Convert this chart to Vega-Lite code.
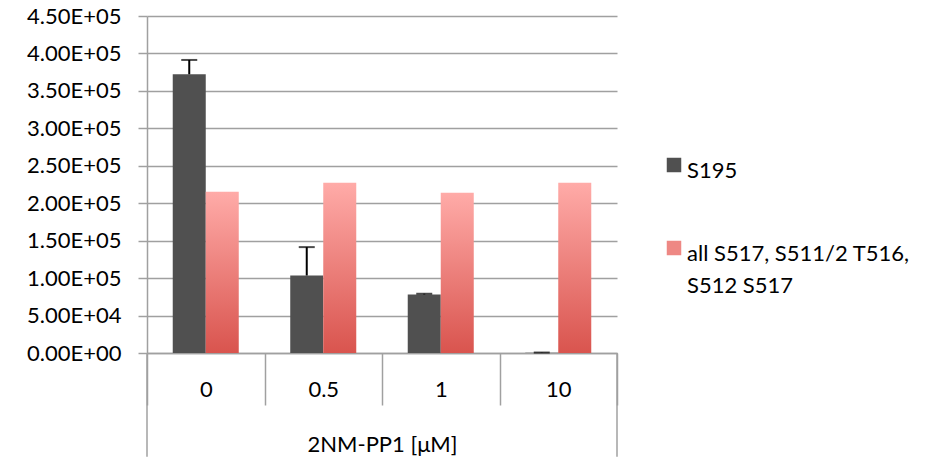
{
  "$schema": "https://vega.github.io/schema/vega-lite/v6.json",
  "width": 470,
  "height": 337,
  "autosize": {"type": "none"},
  "padding": {"left": 147, "top": 16, "right": 334, "bottom": 106},
  "background": "white",
  "config": {
    "view": {"stroke": null},
    "font": "Lato",
    "axis": {"labelFont": "Lato", "titleFont": "Lato", "labelFontSize": 22, "titleFontSize": 22, "labelColor": "black", "titleColor": "black", "titleFontWeight": "normal"},
    "legend": {"labelFont": "Lato", "labelFontSize": 22, "labelColor": "black"}
  },
  "data": {
    "values": [
      {"cat": "0", "series": "S195", "value": 372200, "hi": 391300},
      {"cat": "0.5", "series": "S195", "value": 103500, "hi": 141400},
      {"cat": "1", "series": "S195", "value": 78200, "hi": 79100},
      {"cat": "10", "series": "S195", "value": 300, "hi": 600},
      {"cat": "0", "series": "all S517, S511/2 T516, S512 S517", "value": 215200},
      {"cat": "0.5", "series": "all S517, S511/2 T516, S512 S517", "value": 227200},
      {"cat": "1", "series": "all S517, S511/2 T516, S512 S517", "value": 213900},
      {"cat": "10", "series": "all S517, S511/2 T516, S512 S517", "value": 227200}
    ]
  },
  "encoding": {
    "x": {
      "field": "cat", "type": "nominal",
      "scale": {"domain": ["0", "0.5", "1", "10"], "paddingInner": 0, "paddingOuter": 0},
      "axis": {
        "title": "2NM-PP1 [μM]",
        "labelAngle": 0,
        "labelFontSize": 22,
        "titleFontSize": 22,
        "tickBand": "extent",
        "tickSize": 52,
        "tickColor": "#a0a0a0",
        "tickWidth": 1.5,
        "domainColor": "#a0a0a0",
        "domainWidth": 1.5,
        "labelPadding": -26,
        "titlePadding": 29
      }
    },
    "xOffset": {
      "field": "series", "type": "nominal",
      "scale": {"domain": ["S195", "all S517, S511/2 T516, S512 S517"], "paddingInner": 0, "paddingOuter": 0.78}
    },
    "y": {
      "field": "value", "type": "quantitative",
      "scale": {"domain": [0, 450000], "nice": false, "zero": true},
      "axis": {
        "title": null,
        "tickCount": 9,
        "format": ".2e",
        "labelExpr": "replace(upper(datum.label), 'E+', 'E+0')",
        "labelOverlap": false,
        "labelFontSize": 22,
        "grid": true,
        "gridColor": "#a0a0a0",
        "gridWidth": 1.5,
        "tickColor": "#a0a0a0",
        "tickWidth": 1.5,
        "tickSize": 9,
        "domainColor": "#a0a0a0",
        "domainWidth": 1.5,
        "labelPadding": 17
      }
    }
  },
  "layer": [
    {
      "transform": [{"filter": "datum.series == 'S195'"}],
      "mark": {"type": "bar"},
      "encoding": {
        "color": {
          "field": "series", "type": "nominal",
          "scale": {
            "domain": ["S195", "all S517, S511/2 T516, S512 S517"],
            "range": ["#505050", "#ee8884"]
          },
          "legend": {
            "title": null,
            "orient": "none",
            "legendX": 516,
            "legendY": 138,
            "symbolType": "square",
            "symbolSize": 210,
            "symbolStrokeWidth": 0,
            "labelOffset": 2,
            "labelBaseline": "top",
            "labelFontSize": 22,
            "rowPadding": 55,
            "labelLimit": 400,
            "labelExpr": "datum.label == 'S195' ? 'S195' : ['all S517, S511/2 T516,', 'S512 S517']",
            "encode": {
              "labels": {"update": {"dy": {"value": -4}, "lineHeight": {"value": 32}}}
            }
          }
        }
      }
    },
    {
      "transform": [{"filter": "datum.series != 'S195'"}],
      "mark": {
        "type": "bar",
        "color": {"gradient": "linear", "x1": 0, "y1": 0, "x2": 0, "y2": 1, "stops": [{"offset": 0, "color": "#ffaba8"}, {"offset": 1, "color": "#d9544e"}]}
      },
      "encoding": {}
    },
    {
      "transform": [{"filter": "datum.series == 'S195'"}],
      "mark": {"type": "rule", "color": "black", "strokeWidth": 2},
      "encoding": {
        "y2": {"field": "hi"}
      }
    },
    {
      "transform": [{"filter": "datum.series == 'S195'"}],
      "mark": {"type": "tick", "color": "black", "thickness": 2, "size": 16, "orient": "horizontal"},
      "encoding": {
        "y": {"field": "hi", "type": "quantitative"}
      }
    },
    {
      "transform": [{"filter": "datum.series == 'S195' && datum.cat == '0'"}],
      "mark": {"type": "rule", "color": "#a0a0a0", "strokeWidth": 1.5},
      "encoding": {
        "x": {"field": "cat", "type": "nominal", "bandPosition": 0},
        "xOffset": null,
        "y": {"datum": 0, "type": "quantitative"},
        "y2": {"datum": -138500}
      }
    },
    {
      "transform": [{"filter": "datum.series == 'S195' && datum.cat == '10'"}],
      "mark": {"type": "rule", "color": "#a0a0a0", "strokeWidth": 1.5},
      "encoding": {
        "x": {"field": "cat", "type": "nominal", "bandPosition": 1},
        "xOffset": null,
        "y": {"datum": 0, "type": "quantitative"},
        "y2": {"datum": -138500}
      }
    }
  ]
}
